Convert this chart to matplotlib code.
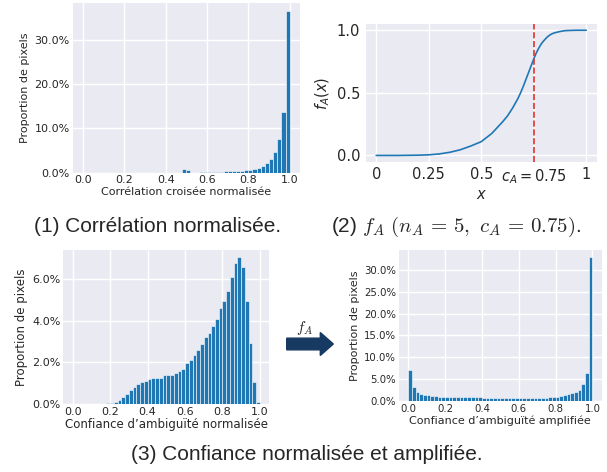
import numpy as np
import matplotlib
matplotlib.use("Agg")
import matplotlib.pyplot as plt
from matplotlib.ticker import PercentFormatter
from matplotlib.patches import FancyArrow

# ---- data (percent of pixels per 0.02 bin, 50 bins) ----
corr_hist = [0, 0, 0, 0, 0, 0, 0, 0, 0, 0,
             0, 0, 0, 0, 0, 0, 0, 0, 0, 0,
             0, 0, 0, 0, 0.8, 0.6, 0, 0, 0.08, 0.1,
             0.12, 0.15, 0.2, 0.22, 0.28, 0.3, 0.35, 0.4, 0.45, 0.5,
             0.6, 0.75, 1.05, 1.6, 2.25, 3.2, 4.7, 7.6, 13.65, 36.4]

conf_hist = [0, 0, 0, 0, 0, 0, 0, 0.02, 0.03, 0.06,
             0.08, 0.13, 0.21, 0.33, 0.49, 0.68, 0.81, 0.97, 1.05, 1.13,
             1.19, 1.26, 1.26, 1.26, 1.38, 1.39, 1.39, 1.48, 1.58, 1.7,
             1.96, 2.12, 2.34, 2.6, 2.88, 3.2, 3.42, 3.74, 4.06, 4.59,
             4.94, 5.4, 6.1, 6.74, 7.02, 6.54, 4.95, 2.95, 1.07, 0.13]

amp_hist = [7.1, 3.13, 2.14, 1.68, 1.45, 1.3, 1.22, 1.15, 1.0, 0.95,
            0.92, 0.9, 0.88, 0.86, 0.85, 0.84, 0.83, 0.82, 0.82, 0.81,
            0.8, 0.8, 0.8, 0.8, 0.8, 0.8, 0.8, 0.8, 0.8, 0.8,
            0.8, 0.8, 0.8, 0.8, 0.8, 0.8, 0.8, 0.8, 0.85, 1.0,
            1.0, 1.2, 1.35, 1.5, 1.8, 2.05, 2.6, 3.8, 6.3, 32.9]

# f_A curve, points
fa_x = [0.0, 0.05, 0.1, 0.15, 0.2, 0.25, 0.3, 0.35, 0.4, 0.45, 0.5, 0.55,
        0.6, 0.625, 0.65, 0.675, 0.6875, 0.7, 0.7125, 0.725, 0.7375, 0.75,
        0.7625, 0.775, 0.7875, 0.8, 0.8125, 0.825, 0.8375, 0.85, 0.875,
        0.9, 0.95, 1.0]
fa_y = [0.0, 0.0, 0.0, 0.001, 0.002, 0.005, 0.012, 0.025, 0.045, 0.075, 0.11,
        0.175, 0.265, 0.315, 0.38, 0.455, 0.5, 0.55, 0.605, 0.66, 0.715, 0.77,
        0.82, 0.86, 0.895, 0.92, 0.943, 0.96, 0.972, 0.98, 0.99,
        0.997, 1.0, 1.0]
fa_ticks = [0, 0.25, 0.5, 0.75, 1]
fa_ticklabels = ["0", "0.25", "0.5", "$c_A = 0.75$", "1"]

plt.style.use("seaborn-v0_8-darkgrid")
plt.rcParams["font.family"] = ["DejaVu Sans"]
plt.rcParams["axes.facecolor"] = "#EAEAF2"

W, H = 607, 472
fig = plt.figure(figsize=(W / 100, H / 100), dpi=100)


def add_ax(left, right, top, bottom):
    return fig.add_axes([left / W, 1 - bottom / H, (right - left) / W, (bottom - top) / H])


def hist_panel(ax, values, xlabel, fs, tfs):
    edges = np.arange(len(values)) * 0.02
    ax.bar(edges, values, width=0.02, align="edge", color="#1f77b4",
           edgecolor="white", linewidth=0.4)
    ax.yaxis.set_major_formatter(PercentFormatter(100, decimals=1))
    ax.set_xticks([0, 0.2, 0.4, 0.6, 0.8, 1.0])
    ax.set_xlabel(xlabel, fontsize=fs, labelpad=1)
    ax.set_ylabel("Proportion de pixels", fontsize=fs, labelpad=3)
    ax.tick_params(labelsize=tfs, length=0, pad=2, colors="#262626")
    ax.grid(color="white", linewidth=1)


# (1) correlation
ax1 = add_ax(72.7, 300, 3.3, 172.7)
hist_panel(ax1, corr_hist, "Corrélation croisée normalisée", 8, 8)
ax1.set_yticks([0, 10, 20, 30])

# (2) f_A curve
ax2 = add_ax(365.7, 596.7, 24, 161.7)
ax2.plot(fa_x, fa_y, color="#1f77b4", linewidth=1.2)
ax2.axvline(0.75, color="#e03030", linestyle="--", linewidth=1.2)
ax2.set_xticks(fa_ticks)
ax2.set_xticklabels(fa_ticklabels)
ax2.get_xticklabels()[3].set_color("#e03030")
ax2.set_yticks([0, 0.5, 1.0])
ax2.set_xlabel("$x$", fontsize=10.5, labelpad=1)
ax2.set_ylabel("$f_A(x)$", fontsize=10.5, labelpad=3)
ax2.tick_params(labelsize=10.5, length=0, pad=4, colors="#262626")
ax2.grid(color="white", linewidth=1)

# (3) normalised and amplified confidence
ax3 = add_ax(63.3, 269.3, 250, 404.3)
hist_panel(ax3, conf_hist, "Confiance d\u2019ambiguïté normalisée", 8.5, 8)
ax3.set_yticks([0, 2, 4, 6])

ax4 = add_ax(399, 601.7, 250, 401)
hist_panel(ax4, amp_hist, "Confiance d\u2019ambiguïté amplifiée", 8, 7.3)
ax4.set_yticks([0, 5, 10, 15, 20, 25, 30])

# overlay in pixel coordinates for arrow and captions
ov = fig.add_axes([0, 0, 1, 1], facecolor="none")
ov.set_xlim(0, W)
ov.set_ylim(H, 0)
ov.axis("off")
ov.add_patch(FancyArrow(286.7, 344, 46.6, 0, width=11.7, head_width=23,
                        head_length=13, length_includes_head=True,
                        color="#173a63"))
ov.text(305, 328, "$f_A$", fontsize=11, ha="center", va="center",
        math_fontfamily="cm")

cap = dict(fontsize=15, ha="center", va="center", family="Liberation Sans",
           math_fontfamily="cm")
ov.text(158, 227, "(1) Corrélation normalisée.", **cap)
ov.text(456, 227, r"(2) $f_A\ (n_A \,=\, 5,\ c_A \,=\, 0.75)$.", **cap)
ov.text(307, 455, "(3) Confiance normalisée et amplifiée.", **cap)

fig.savefig("out.png", dpi=100)
